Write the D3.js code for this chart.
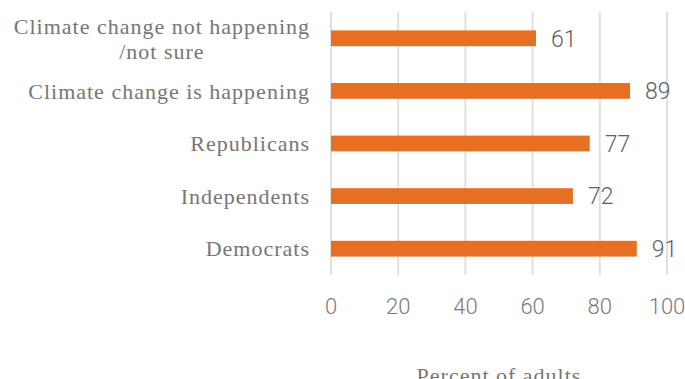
<!DOCTYPE html>
<html>
<head>
<meta charset="utf-8">
<script src="https://cdn.jsdelivr.net/npm/d3@7"></script>
<style>
  body { margin: 0; background: #fff; }
  .cat { font-family: "Liberation Serif", serif; font-size: 22px; letter-spacing: 1px; fill: #767676; }
  .tick-label { font-family: "Roboto", sans-serif; font-weight: 300; font-size: 22px; fill: #7a7a7a; }
  .val { font-family: "Roboto", sans-serif; font-weight: 300; font-size: 23px; fill: #606060; }
  .axis-title { font-family: "Liberation Serif", serif; font-size: 22px; letter-spacing: 1px; fill: #767676; }
</style>
</head>
<body>
<svg id="chart" width="685" height="379"></svg>
<script>
// categories top to bottom
const categories = [
  ["Climate change not happening", "/not sure"],
  ["Climate change is happening"],
  ["Republicans"],
  ["Independents"],
  ["Democrats"]
];
const values = [61, 89, 77, 72, 91];
const ticks = [0, 20, 40, 60, 80, 100];
const axisTitle = "Percent of adults";

const dimension = { width: 685, height: 379 };
const padding = { left: 331, right: 18, top: 12, bottom: 104 };
const innerWidth = dimension.width - padding.left - padding.right;
const innerHeight = dimension.height - padding.top - padding.bottom;

const svg = d3.select("#chart")
  .append("g")
  .attr("transform", `translate(${padding.left},${padding.top})`);

const x = d3.scaleLinear().domain([0, 100]).range([0, innerWidth]);
const y = d3.scaleBand()
  .domain(d3.range(categories.length))
  .range([0, innerHeight])
  .paddingInner(0.7)
  .paddingOuter(0.35);

// gridlines
svg.append("g")
  .selectAll("line")
  .data(ticks)
  .enter()
  .append("line")
  .attr("x1", d => x(d))
  .attr("x2", d => x(d))
  .attr("y1", 0)
  .attr("y2", innerHeight)
  .attr("stroke", "#e0e0e0")
  .attr("stroke-width", 2);

// tick labels
svg.append("g")
  .selectAll("text")
  .data(ticks)
  .enter()
  .append("text")
  .attr("class", "tick-label")
  .attr("x", d => x(d))
  .attr("y", innerHeight + 31)
  .attr("dy", "0.35em")
  .attr("text-anchor", "middle")
  .text(d => d);

// bars
svg.append("g")
  .selectAll("rect")
  .data(values)
  .enter()
  .append("rect")
  .attr("x", x(0))
  .attr("y", (d, i) => y(i))
  .attr("width", d => x(d) - x(0))
  .attr("height", y.bandwidth())
  .attr("fill", "#e66f24");

// value labels
svg.append("g")
  .selectAll("text")
  .data(values)
  .enter()
  .append("text")
  .attr("class", "val")
  .attr("x", d => x(d) + 15)
  .attr("y", (d, i) => y(i) + y.bandwidth() / 2)
  .attr("dy", "0.36em")
  .text(d => d);

// category labels, multi-line ones centred under the first line
const lineH = 25;
const labelX = -21;
svg.append("g")
  .selectAll("g")
  .data(categories)
  .enter()
  .append("g")
  .each(function(d, i) {
    const g = d3.select(this);
    const cy = y(i) + y.bandwidth() / 2;
    const top = cy - (d.length - 1) * lineH / 2;
    const first = g.append("text")
      .attr("class", "cat")
      .attr("text-anchor", "end")
      .attr("x", labelX)
      .attr("y", top)
      .attr("dy", "0.35em")
      .text(d[0]);
    const w = first.node().getComputedTextLength();
    d.slice(1).forEach((line, j) => {
      g.append("text")
        .attr("class", "cat")
        .attr("text-anchor", "middle")
        .attr("x", labelX - w / 2)
        .attr("y", top + (j + 1) * lineH)
        .attr("dy", "0.35em")
        .text(line);
    });
  });

// axis title
svg.append("text")
  .attr("class", "axis-title")
  .attr("x", innerWidth / 2)
  .attr("y", innerHeight + 108)
  .attr("text-anchor", "middle")
  .text(axisTitle);
</script>
</body>
</html>
